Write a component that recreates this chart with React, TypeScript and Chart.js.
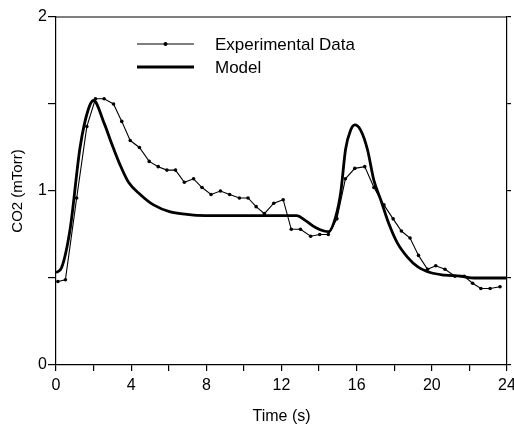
import React, { useEffect, useRef } from "react";
import { Chart, registerables } from "chart.js";

Chart.register(...registerables);

const expTime = [0.1, 0.5, 1.1, 1.64, 2.1, 2.56, 3.06, 3.5, 3.95, 4.44, 4.96, 5.44, 5.9, 6.36, 6.83, 7.32, 7.77, 8.25, 8.75, 9.24, 9.76, 10.22, 10.65, 11.09, 11.59, 12.09, 12.52, 13.01, 13.55, 14.03, 14.49, 14.95, 15.4, 15.9, 16.43, 16.92, 17.45, 17.94, 18.38, 18.84, 19.29, 19.77, 20.21, 20.7, 21.23, 21.72, 22.17, 22.61, 23.1, 23.63];
const expCO2 = [0.48, 0.49, 0.96, 1.37, 1.53, 1.53, 1.5, 1.4, 1.29, 1.25, 1.17, 1.14, 1.12, 1.12, 1.05, 1.07, 1.02, 0.98, 1.0, 0.98, 0.96, 0.96, 0.91, 0.87, 0.93, 0.95, 0.78, 0.78, 0.74, 0.75, 0.75, 0.84, 1.07, 1.13, 1.14, 1.02, 0.92, 0.84, 0.77, 0.73, 0.63, 0.55, 0.57, 0.55, 0.51, 0.51, 0.47, 0.44, 0.44, 0.45];

const modelTime = [0, 0.3, 0.75, 1.28, 1.72, 2.0, 2.56, 2.97, 3.41, 3.86, 4.48, 5.19, 6.08, 6.97, 7.5, 10.0, 12.8, 13.28, 13.81, 14.26, 14.5, 14.88, 15.15, 15.41, 15.68, 15.9, 16.21, 16.57, 16.92, 17.28, 17.72, 18.17, 18.7, 19.24, 19.95, 20.67, 21.55, 22.26, 24];
const modelCO2 = [0.53, 0.56, 0.78, 1.25, 1.47, 1.52, 1.39, 1.27, 1.15, 1.05, 0.98, 0.92, 0.88, 0.866, 0.86, 0.858, 0.858, 0.83, 0.79, 0.77, 0.766, 0.85, 0.99, 1.24, 1.35, 1.38, 1.35, 1.24, 1.06, 0.95, 0.81, 0.7, 0.62, 0.565, 0.53, 0.517, 0.51, 0.5, 0.5];

const legendLabels = ["Experimental Data", "Model"];
const xTitle = "Time (s)";
const yTitle = "CO2 (mTorr)";

const FONT = "'Liberation Sans', Arial, sans-serif";

const framePlugin = {
  id: "frameAndLegend",
  afterDraw(chart: any) {
    const { ctx, chartArea } = chart;
    const { left, right, top } = chartArea;
    ctx.save();
    ctx.strokeStyle = "#000";
    ctx.lineWidth = 1.2;
    ctx.beginPath();
    ctx.moveTo(left, top);
    ctx.lineTo(right, top);
    ctx.stroke();

    const lx0 = left + 81;
    const lx1 = left + 138;
    const ly1 = top + 27;
    const ly2 = top + 50;
    ctx.lineWidth = 1.2;
    ctx.beginPath();
    ctx.moveTo(lx0, ly1);
    ctx.lineTo(lx1, ly1);
    ctx.stroke();
    ctx.fillStyle = "#000";
    ctx.beginPath();
    ctx.arc((lx0 + lx1) / 2, ly1, 2, 0, Math.PI * 2);
    ctx.fill();
    ctx.lineWidth = 2.8;
    ctx.beginPath();
    ctx.moveTo(lx0, ly2);
    ctx.lineTo(lx1, ly2);
    ctx.stroke();

    ctx.font = `17px ${FONT}`;
    ctx.textBaseline = "middle";
    ctx.textAlign = "left";
    ctx.fillText(legendLabels[0], left + 159, ly1 + 1);
    ctx.fillText(legendLabels[1], left + 159, ly2 + 1);
    ctx.restore();
  },
};

export default function App() {
  const ref = useRef<HTMLCanvasElement>(null);
  useEffect(() => {
    document.body.style.margin = "0";
    const ctx = ref.current!.getContext("2d")!;
    const chart = new Chart(ctx, {
      type: "scatter",
      data: {
        datasets: [
          {
            label: legendLabels[0],
            data: expTime.map((t, i) => ({ x: t, y: expCO2[i] })),
            showLine: true,
            borderColor: "#000",
            backgroundColor: "#000",
            borderWidth: 1.1,
            pointRadius: 1.8,
            pointBorderWidth: 0,
            tension: 0,
          },
          {
            label: legendLabels[1],
            data: modelTime.map((t, i) => ({ x: t, y: modelCO2[i] })),
            showLine: true,
            borderColor: "#000",
            backgroundColor: "#000",
            borderWidth: 2.8,
            pointRadius: 0,
            cubicInterpolationMode: "monotone",
          },
        ],
      },
      options: {
        animation: false,
        responsive: false,
        layout: { padding: { top: 17, left: 0, right: 0, bottom: 0 } },
        plugins: { legend: { display: false }, tooltip: { enabled: false } },
        scales: {
          x: {
            type: "linear",
            min: 0,
            max: 24,
            afterFit: (s: any) => { s.height = 67; s.paddingLeft = 0; s.paddingRight = 0; },
            ticks: {
              stepSize: 2,
              color: "#000",
              font: { family: FONT, size: 16 },
              padding: 5,
              maxRotation: 0,
              autoSkip: false,
              callback: (v: any) => (Number(v) % 4 === 0 ? String(v) : ""),
            },
            grid: { drawOnChartArea: false, tickLength: 6, color: "#000", lineWidth: 1.2 },
            border: { color: "#000", width: 1.2 },
            title: { display: true, text: xTitle, color: "#000", font: { family: FONT, size: 16 }, padding: { top: 0, bottom: 6 } },
          },
          y: {
            min: 0,
            max: 2,
            afterFit: (s: any) => { s.width = 56; s.paddingTop = 0; s.paddingBottom = 0; },
            ticks: {
              stepSize: 0.5,
              color: "#000",
              font: { family: FONT, size: 16 },
              padding: 1,
              callback: (v: any) => (Number.isInteger(Number(v)) ? String(v) : ""),
            },
            grid: { drawOnChartArea: false, tickLength: 8, color: "#000", lineWidth: 1.2 },
            border: { color: "#000", width: 1.2 },
            title: { display: true, text: yTitle, color: "#000", font: { family: FONT, size: 15 }, padding: { top: 9, bottom: 0 } },
          },
          y2: {
            position: "right",
            min: 0,
            max: 2,
            afterFit: (s: any) => { s.width = 7; s.paddingTop = 0; s.paddingBottom = 0; },
            ticks: { stepSize: 0.5, callback: () => "", padding: 0 },
            grid: { drawOnChartArea: false, tickLength: 4, color: "#000", lineWidth: 1.2 },
            border: { color: "#000", width: 1.2 },
          },
        },
      },
      plugins: [framePlugin],
    } as any);
    return () => chart.destroy();
  }, []);
  return (
    <div style={{ width: 514, height: 432 }}>
      <canvas ref={ref} width={514} height={432} />
    </div>
  );
}
